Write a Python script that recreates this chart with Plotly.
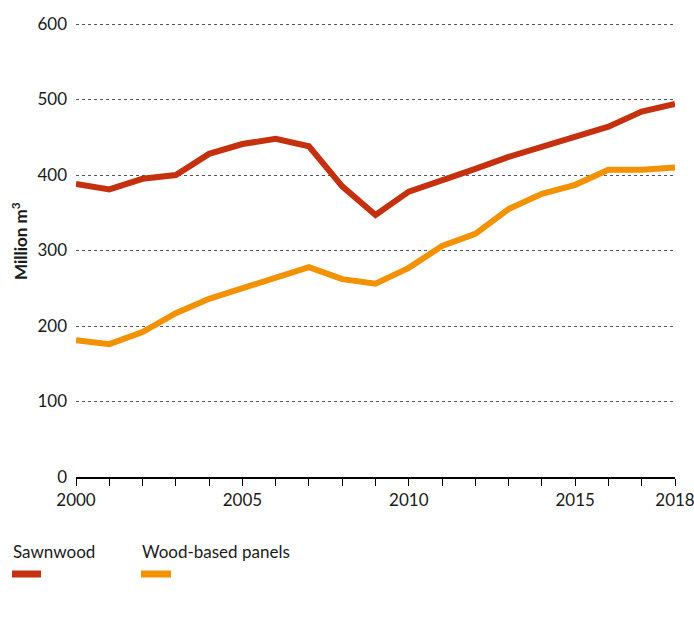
import plotly.graph_objects as go

years = list(range(2000, 2019))
sawnwood = [388, 381, 395, 400, 428, 441, 448, 438, 385, 347, 378, 392, 408, 424, 438, 451, 464, 484, 494]
panels = [181, 176, 192, 217, 236, 250, 264, 278, 262, 256, 277, 306, 322, 355, 375, 387, 407, 407, 410]
series_names = ["Sawnwood", "Wood-based panels"]
series_colors = ["#C5300E", "#F39200"]
x_tick_vals = [2000, 2005, 2010, 2015, 2018]
x_tick_text = ["2000", "2005", "2010", "2015", "2018"]
y_ticks = [0, 100, 200, 300, 400, 500, 600]

FONT = "Lato, 'Noto Sans', sans-serif"

fig = go.Figure()
for name, vals, col in zip(series_names, [sawnwood, panels], series_colors):
    fig.add_trace(go.Scatter(x=years, y=vals, mode="lines", name=name,
                             line=dict(color=col, width=6, shape="linear"),
                             showlegend=False, hoverinfo="x+y"))

L, R, T, B = 76, 19, 21, 149
W, H = 694, 626
pw = W - L - R
ph = H - T - B
y_top = 600 * ph / (H - B - 24)

fig.update_layout(
    width=W, height=H,
    margin=dict(l=L, r=R, t=T, b=B, autoexpand=False),
    paper_bgcolor="white", plot_bgcolor="white",
    font=dict(family=FONT, size=17, color="#1a1a1a"),
    showlegend=False,
    xaxis=dict(range=[2000, 2018], tickmode="array", tickvals=x_tick_vals,
               ticktext=x_tick_text, ticklabeloverflow="allow", automargin=False,
               showgrid=False, zeroline=False, showline=True, linecolor="black", linewidth=1.5,
               ticks="outside", ticklen=7, tickcolor="black", tickwidth=1,
               minor=dict(ticks="outside", tick0=2000, dtick=1, ticklen=7, tickcolor="black",
                          tickwidth=1, showgrid=False),
               tickfont=dict(size=17), fixedrange=True),
    yaxis=dict(range=[0, y_top], tickmode="array", tickvals=y_ticks, automargin=False,
               showgrid=True, gridcolor="#555555", griddash="dot", gridwidth=1,
               zeroline=False, showline=False, ticks="", ticklabelstandoff=8,
               tickfont=dict(size=17), fixedrange=True),
)

# y-axis title
fig.add_annotation(text="<b>Million m<sup>3</sup></b>", textangle=-90,
                   xref="paper", yref="paper", x=(20 - L) / pw, y=(H - B - 241) / ph,
                   xanchor="center", yanchor="middle",
                   showarrow=False, font=dict(size=17, family=FONT, color="#1a1a1a"))

# legend drawn below the plot
leg_items = [(11, 42), (140, 172)]
for (x0, x1), name, col in zip(leg_items, series_names, series_colors):
    fig.add_annotation(text=name, xref="paper", yref="paper",
                       x=(x0 - L) / pw, y=(H - B - 551) / ph, xanchor="left", yanchor="middle",
                       showarrow=False, font=dict(size=17, family=FONT, color="#1a1a1a"))
    ly = (H - B - 574) / ph
    fig.add_shape(type="line", xref="paper", yref="paper",
                  x0=(x0 + 1 - L) / pw, x1=(x1 - 1 - L) / pw, y0=ly, y1=ly,
                  line=dict(color=col, width=7))

fig.write_html("out.html", config={"displayModeBar": False},
               post_script="document.body.style.margin='0';")
